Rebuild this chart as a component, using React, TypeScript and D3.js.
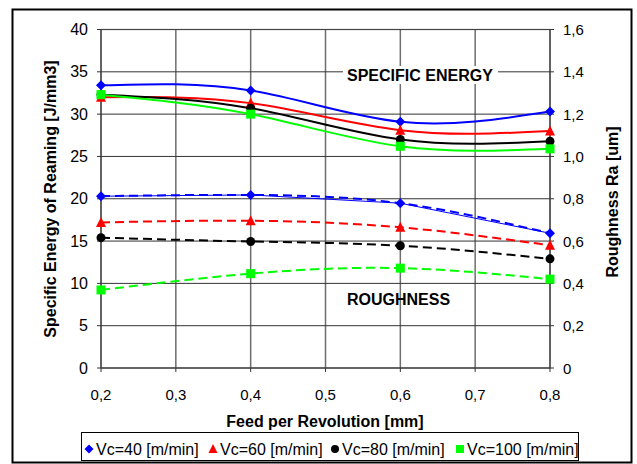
import React from 'react';
import * as d3 from 'd3';

const feeds = [0.2, 0.4, 0.6, 0.8];
const xTicks = [0.2, 0.3, 0.4, 0.5, 0.6, 0.7, 0.8];
const energyTicks = [0, 5, 10, 15, 20, 25, 30, 35, 40];
const roughTicks = [0, 0.2, 0.4, 0.6, 0.8, 1.0, 1.2, 1.4, 1.6];

const seriesNames = ['Vc=40 [m/min]', 'Vc=60 [m/min]', 'Vc=80 [m/min]', 'Vc=100 [m/min]'];
const seriesColors = ['#0000ff', '#ff0000', '#000000', '#00ff00'];
const seriesMarkers = ['diamond', 'triangle', 'circle', 'square'];

// specific energy [J/mm3], left axis
const energyVc40 = [33.4, 32.8, 29.1, 30.3];
const energyVc60 = [32.0, 31.3, 28.1, 28.0];
const energyVc80 = [32.3, 30.7, 27.0, 26.8];
const energyVc100 = [32.3, 30.0, 26.2, 25.9];

// roughness Ra [um], right axis
const roughVc40 = [0.812, 0.818, 0.779, 0.637];
const roughVc60 = [0.688, 0.696, 0.665, 0.58];
const roughVc80 = [0.616, 0.598, 0.578, 0.516];
const roughVc100 = [0.369, 0.446, 0.472, 0.42];

const energy = [energyVc40, energyVc60, energyVc80, energyVc100];
const rough = [roughVc40, roughVc60, roughVc80, roughVc100];

const W = 637;
const H = 464;
const plot = { left: 101, right: 550, top: 29.5, bottom: 368 };
const font = '"Liberation Sans", Arial, sans-serif';

const x = d3.scaleLinear().domain([0.2, 0.8]).range([plot.left, plot.right]);
const yL = d3.scaleLinear().domain([0, 40]).range([plot.bottom, plot.top]);
const yR = d3.scaleLinear().domain([0, 1.6]).range([plot.bottom, plot.top]);

const comma = (v: number, digits: number) => v.toFixed(digits).replace('.', ',');

function Marker({ kind, cx, cy, color, s = 5 }: any) {
  if (kind === 'diamond')
    return <path d={`M${cx},${cy - s}L${cx + s},${cy}L${cx},${cy + s}L${cx - s},${cy}Z`} fill={color} />;
  if (kind === 'triangle')
    return <path d={`M${cx},${cy - s - 0.5}L${cx + s},${cy + s - 0.5}L${cx - s},${cy + s - 0.5}Z`} fill={color} />;
  if (kind === 'circle') return <circle cx={cx} cy={cy} r={s - 0.5} fill={color} />;
  return <rect x={cx - s + 0.5} y={cy - s + 0.5} width={2 * s - 1} height={2 * s - 1} fill={color} />;
}

export default function App() {
  const smooth = d3.curveNatural;
  const lineL = d3.line<number>().x((_, i) => x(feeds[i])).y(d => yL(d)).curve(smooth);
  const lineR = d3.line<number>().x((_, i) => x(feeds[i])).y(d => yR(d)).curve(smooth);
  const straightR = d3.line<number>().x((_, i) => x(feeds[i])).y(d => yR(d));

  const legendX = [89, 213, 335, 460];

  return (
    <svg width={W} height={H} style={{ position: 'absolute', left: 0, top: 0, fontFamily: font }}>
      <rect x={0} y={0} width={W} height={H} fill="#fff" />
      <rect x={12.5} y={9.5} width={619} height={453} fill="none" stroke="#000" strokeWidth={2} />

      {/* grid */}
      {xTicks.map(t => (
        <line key={'vx' + t} x1={x(t)} x2={x(t)} y1={plot.top} y2={plot.bottom} stroke="#6e6e6e" strokeWidth={1.5} />
      ))}
      {energyTicks.map(t => (
        <line key={'hy' + t} x1={plot.left} x2={plot.right} y1={yL(t)} y2={yL(t)} stroke="#333" strokeWidth={1} />
      ))}
      <rect x={plot.left} y={plot.top} width={plot.right - plot.left} height={plot.bottom - plot.top}
        fill="none" stroke="#444" strokeWidth={1.2} />

      {/* ticks */}
      {energyTicks.map(t => (
        <g key={'lt' + t}>
          <line x1={plot.left - 4} x2={plot.left} y1={yL(t)} y2={yL(t)} stroke="#333" />
          <text x={88} y={yL(t) + 5.5} textAnchor="end" fontSize={16}>{t}</text>
        </g>
      ))}
      {roughTicks.map(t => (
        <g key={'rt' + t}>
          <line x1={plot.right} x2={plot.right + 4} y1={yR(t)} y2={yR(t)} stroke="#333" />
          <text x={563} y={yR(t) + 5.5} fontSize={15}>{t === 0 ? '0' : comma(t, 1)}</text>
        </g>
      ))}
      {xTicks.map(t => (
        <g key={'xt' + t}>
          <line x1={x(t)} x2={x(t)} y1={plot.bottom} y2={plot.bottom + 4} stroke="#333" />
          <text x={x(t)} y={400} textAnchor="middle" fontSize={15}>{comma(t, 1)}</text>
        </g>
      ))}

      {/* axis titles */}
      <text x={325} y={427} textAnchor="middle" fontSize={16} fontWeight="bold">Feed per Revolution [mm]</text>
      <text transform="translate(56,199) rotate(-90)" textAnchor="middle" fontSize={16} fontWeight="bold">
        Specific Energy of Reaming [J/mm3]
      </text>
      <text transform="translate(618,202) rotate(-90)" textAnchor="middle" fontSize={16} fontWeight="bold">
        Roughness Ra [um]
      </text>

      {/* annotations */}
      <rect x={343} y={66} width={155} height={18} fill="#fff" />
      <text x={347} y={81} fontSize={16} fontWeight="bold">SPECIFIC ENERGY</text>
      <text x={347} y={305} fontSize={16} fontWeight="bold">ROUGHNESS</text>

      {/* roughness (dashed) */}
      <path d={straightR(roughVc40) || ''} fill="none" stroke={seriesColors[0]} strokeWidth={1} />
      {rough.map((vals, si) => (
        <path key={'rl' + si} d={lineR(vals) || ''} fill="none" stroke={seriesColors[si]} strokeWidth={2}
          strokeDasharray="9,5" />
      ))}
      {rough.map((vals, si) =>
        vals.map((v, i) => (
          <Marker key={'rm' + si + i} kind={seriesMarkers[si]} cx={x(feeds[i])} cy={yR(v)} color={seriesColors[si]} />
        ))
      )}

      {/* specific energy (solid) */}
      {energy.map((vals, si) => (
        <path key={'el' + si} d={lineL(vals) || ''} fill="none" stroke={seriesColors[si]} strokeWidth={2} />
      ))}
      {energy.map((vals, si) =>
        vals.map((v, i) => (
          <Marker key={'em' + si + i} kind={seriesMarkers[si]} cx={x(feeds[i])} cy={yL(v)} color={seriesColors[si]} />
        ))
      )}

      {/* legend */}
      <rect x={81.5} y={432.5} width={497} height={28} fill="#fff" stroke="#000" strokeWidth={1} />
      {seriesNames.map((name, i) => (
        <g key={'lg' + i}>
          <Marker kind={seriesMarkers[i]} cx={legendX[i]} cy={449} color={seriesColors[i]} s={4.5} />
          <text x={legendX[i] + 7} y={455} fontSize={16}>{name}</text>
        </g>
      ))}
    </svg>
  );
}
